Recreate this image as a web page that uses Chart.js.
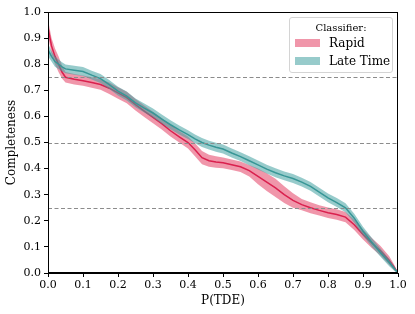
<!DOCTYPE html>
<html>
<head>
<meta charset="utf-8">
<script src="https://cdn.jsdelivr.net/npm/chart.js@4"></script>
<style>
  body { margin:0; background:#fff; }
  #wrap { position:relative; width:415px; height:314px; }
  #legend {
    position:absolute; left:289px; top:17px; width:104px; height:56px;
    border:1px solid #d4d4d4; border-radius:3px; background:rgba(255,255,255,0.85);
    font-family:"DejaVu Serif", serif; color:#000; box-sizing:border-box;
  }
  #legend .ttl { position:absolute; left:0; right:0; top:4px; text-align:center; font-size:10px; }
  #legend .row { position:absolute; left:5px; height:14px; display:flex; align-items:center; font-size:12px; }
  #legend .sw { width:25px; height:8px; margin-right:9px; }
</style>
</head>
<body>
<div id="wrap">
  <canvas id="c" width="415" height="314"></canvas>
  <div id="legend">
    <div class="ttl">Classifier:</div>
    <div class="row" style="top:18px"><span class="sw" style="background:rgba(225,45,85,0.5)"></span>Rapid</div>
    <div class="row" style="top:36px"><span class="sw" style="background:rgba(65,160,160,0.55)"></span>Late Time</div>
  </div>
</div>
<script>
// P(TDE) 阈值
const probs = [0,0.01,0.02,0.03,0.04,0.05,0.075,0.1,0.125,0.15,0.175,0.2,0.225,0.25,0.275,0.3,0.325,0.35,0.375,0.4,0.42,0.44,0.46,0.48,0.5,0.525,0.55,0.575,0.6,0.625,0.65,0.675,0.7,0.725,0.75,0.775,0.8,0.825,0.85,0.875,0.9,0.925,0.95,0.975,0.99,1];

// Rapid
const rapidMid = [0.94,0.87,0.83,0.80,0.77,0.75,0.742,0.737,0.73,0.722,0.708,0.69,0.672,0.645,0.62,0.596,0.572,0.545,0.522,0.5,0.472,0.442,0.43,0.425,0.422,0.415,0.407,0.392,0.37,0.348,0.326,0.3,0.278,0.262,0.25,0.24,0.231,0.224,0.214,0.185,0.148,0.115,0.085,0.048,0.02,0];
const rapidLo  = [0.91,0.84,0.80,0.77,0.745,0.73,0.722,0.717,0.71,0.702,0.686,0.668,0.65,0.623,0.598,0.574,0.55,0.523,0.5,0.477,0.447,0.417,0.407,0.403,0.401,0.395,0.387,0.37,0.34,0.314,0.291,0.268,0.25,0.24,0.229,0.22,0.211,0.204,0.194,0.165,0.128,0.096,0.067,0.032,0.01,0];
const rapidHi  = [0.97,0.90,0.86,0.83,0.795,0.77,0.762,0.757,0.75,0.742,0.73,0.712,0.694,0.667,0.642,0.618,0.594,0.567,0.544,0.523,0.497,0.467,0.453,0.447,0.443,0.435,0.427,0.414,0.4,0.382,0.361,0.332,0.306,0.284,0.271,0.26,0.251,0.244,0.234,0.205,0.168,0.134,0.103,0.064,0.03,0];

// Late Time
const lateMid = [0.855,0.83,0.81,0.80,0.79,0.782,0.777,0.772,0.758,0.745,0.722,0.697,0.678,0.652,0.632,0.613,0.59,0.568,0.548,0.53,0.514,0.5,0.49,0.482,0.475,0.46,0.446,0.43,0.414,0.398,0.384,0.372,0.362,0.348,0.332,0.31,0.288,0.27,0.25,0.21,0.16,0.118,0.078,0.04,0.016,0];
const lateLo  = [0.83,0.81,0.79,0.782,0.773,0.765,0.76,0.755,0.741,0.728,0.705,0.68,0.661,0.635,0.615,0.596,0.573,0.551,0.531,0.513,0.497,0.483,0.473,0.465,0.458,0.443,0.429,0.413,0.397,0.381,0.367,0.355,0.345,0.331,0.315,0.293,0.271,0.253,0.233,0.193,0.143,0.101,0.062,0.026,0.008,0];
const lateHi  = [0.88,0.85,0.83,0.818,0.807,0.799,0.794,0.789,0.775,0.762,0.739,0.714,0.695,0.669,0.649,0.63,0.607,0.585,0.565,0.547,0.531,0.517,0.507,0.499,0.492,0.477,0.463,0.447,0.431,0.415,0.401,0.389,0.379,0.365,0.349,0.327,0.305,0.287,0.267,0.227,0.177,0.135,0.094,0.054,0.024,0];

const refLines = [0.25, 0.5, 0.75];
const axisTicks = [0,0.1,0.2,0.3,0.4,0.5,0.6,0.7,0.8,0.9,1.0];

const RED = 'rgb(218,32,78)', RED_FILL = 'rgba(225,45,85,0.5)';
const TEAL = 'rgb(55,150,150)', TEAL_FILL = 'rgba(65,160,160,0.55)';
const FONT = '"DejaVu Serif", serif';

const pts = arr => arr.map((v,i)=>({x:probs[i], y:v}));

function band(lo, hi, fillColor, ord){
  return [
    {data:pts(lo), borderWidth:0, pointRadius:0, fill:false, order:ord+1},
    {data:pts(hi), borderWidth:0, pointRadius:0, fill:'-1', backgroundColor:fillColor, order:ord}
  ];
}

// 参考虚线 + 边框
const extras = {
  id:'extras',
  afterDatasetsDraw(chart){
    const {ctx, chartArea:a, scales:{y}} = chart;
    ctx.save();
    ctx.strokeStyle = '#8c8c8c'; ctx.lineWidth = 1; ctx.setLineDash([4,2.5]);
    refLines.forEach(v=>{
      const py = Math.round(y.getPixelForValue(v))+0.5;
      ctx.beginPath(); ctx.moveTo(a.left,py); ctx.lineTo(a.right,py); ctx.stroke();
    });
    ctx.setLineDash([]); ctx.strokeStyle='#000'; ctx.lineWidth=1;
    ctx.strokeRect(a.left+0.5, a.top+0.5, a.right-a.left-1, a.bottom-a.top-1);
    ctx.restore();
  }
};

new Chart(document.getElementById('c'), {
  type:'line',
  data:{datasets:[
    ...band(rapidLo, rapidHi, RED_FILL, 5),
    {data:pts(rapidMid), borderColor:RED, borderWidth:1.5, pointRadius:0, fill:false, order:4},
    ...band(lateLo, lateHi, TEAL_FILL, 2),
    {data:pts(lateMid), borderColor:TEAL, borderWidth:1.5, pointRadius:0, fill:false, order:1}
  ]},
  options:{
    responsive:false, animation:false,
    layout:{padding:{top:12, right:17, left:0, bottom:0}},
    plugins:{legend:{display:false}, tooltip:{enabled:false}},
    elements:{line:{tension:0}},
    scales:{
      x:{
        type:'linear', min:0, max:1,
        afterBuildTicks(s){ s.ticks = axisTicks.map(v=>({value:v})); },
        afterFit(s){ s.height = 41; },
        ticks:{callback:v=>v.toFixed(1), color:'#000', font:{family:FONT, size:11}, padding:2, maxRotation:0},
        grid:{drawOnChartArea:false, tickLength:4, tickColor:'#000'},
        border:{color:'#000'},
        title:{display:true, text:'P(TDE)', color:'#000', font:{family:FONT, size:12}, padding:{top:0,bottom:6}}
      },
      y:{
        min:0, max:1,
        afterBuildTicks(s){ s.ticks = axisTicks.map(v=>({value:v})); },
        afterFit(s){ s.width = 48; },
        ticks:{callback:v=>v.toFixed(1), color:'#000', font:{family:FONT, size:11}, padding:3},
        grid:{drawOnChartArea:false, tickLength:4, tickColor:'#000'},
        border:{color:'#000'},
        title:{display:true, text:'Completeness', color:'#000', font:{family:FONT, size:12}, padding:{top:5,bottom:2}}
      }
    }
  },
  plugins:[extras]
});
</script>
</body>
</html>
